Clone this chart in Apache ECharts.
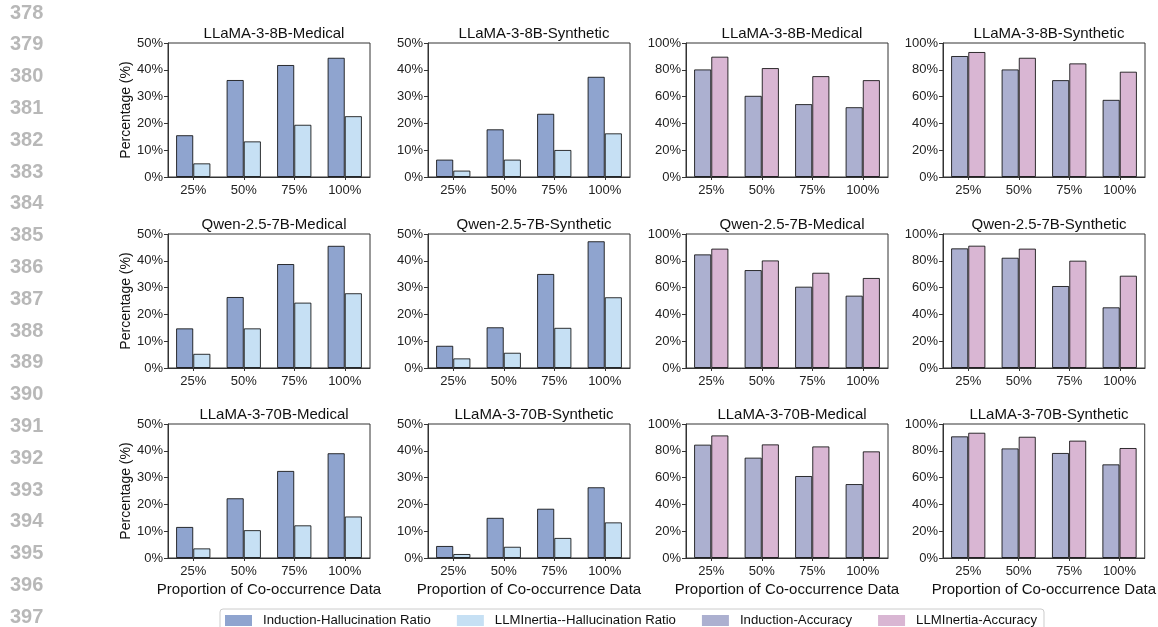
<!DOCTYPE html>
<html>
<head>
<meta charset="utf-8">
<script src="https://cdn.jsdelivr.net/npm/echarts@6/dist/echarts.min.js"></script>
<style>
html,body{margin:0;padding:0;background:#fff;}
#chart{width:1158px;height:627px;}
</style>
</head>
<body>
<div id="chart"></div>
<script>
// ---------- DATA ----------
const categories = ['25%', '50%', '75%', '100%'];
const hallTicks = [0, 10, 20, 30, 40, 50];
const accTicks = [0, 20, 40, 60, 80, 100];
const lineNumbers = ['378','379','380','381','382','383','384','385','386','387','388','389','390','391','392','393','394','395','396','397'];
const seriesNames = ['Induction-Hallucination Ratio', 'LLMInertia--Hallucination Ratio', 'Induction-Accuracy', 'LLMInertia-Accuracy'];

// LLaMA-3-8B
const llama8bMedInductionHall = [15.6, 36.2, 41.8, 44.5];
const llama8bMedInertiaHall   = [5.1, 13.3, 19.5, 22.7];
const llama8bSynInductionHall = [6.5, 17.8, 23.6, 37.4];
const llama8bSynInertiaHall   = [2.4, 6.5, 10.1, 16.3];
const llama8bMedInductionAcc  = [80.3, 60.6, 54.4, 52.1];
const llama8bMedInertiaAcc    = [89.8, 81.3, 75.3, 72.3];
const llama8bSynInductionAcc  = [90.3, 80.3, 72.3, 57.6];
const llama8bSynInertiaAcc    = [93.3, 89.0, 84.8, 78.6];
// Qwen-2.5-7B
const qwenMedInductionHall = [14.8, 26.5, 38.8, 45.6];
const qwenMedInertiaHall   = [5.3, 14.8, 24.4, 27.9];
const qwenSynInductionHall = [8.3, 15.2, 35.1, 47.3];
const qwenSynInertiaHall   = [3.6, 5.7, 15.0, 26.4];
const qwenMedInductionAcc  = [84.8, 73.1, 60.7, 54.0];
const qwenMedInertiaAcc    = [89.1, 80.3, 71.1, 67.2];
const qwenSynInductionAcc  = [89.3, 82.3, 61.2, 45.3];
const qwenSynInertiaAcc    = [91.3, 89.1, 80.1, 68.9];
// LLaMA-3-70B
const llama70bMedInductionHall = [11.6, 22.3, 32.5, 39.1];
const llama70bMedInertiaHall   = [3.6, 10.4, 12.2, 15.5];
const llama70bSynInductionHall = [4.5, 15.0, 18.4, 26.4];
const llama70bSynInertiaHall   = [1.5, 4.2, 7.5, 13.3];
const llama70bMedInductionAcc  = [84.6, 74.9, 61.2, 55.2];
const llama70bMedInertiaAcc    = [91.5, 84.8, 83.3, 79.6];
const llama70bSynInductionAcc  = [90.8, 81.8, 78.4, 69.9];
const llama70bSynInertiaAcc    = [93.5, 90.5, 87.6, 82.1];

// panels: [title, kind, first, second]
const panels = [
  ['LLaMA-3-8B-Medical', 'hall', llama8bMedInductionHall, llama8bMedInertiaHall],
  ['LLaMA-3-8B-Synthetic', 'hall', llama8bSynInductionHall, llama8bSynInertiaHall],
  ['LLaMA-3-8B-Medical', 'acc', llama8bMedInductionAcc, llama8bMedInertiaAcc],
  ['LLaMA-3-8B-Synthetic', 'acc', llama8bSynInductionAcc, llama8bSynInertiaAcc],
  ['Qwen-2.5-7B-Medical', 'hall', qwenMedInductionHall, qwenMedInertiaHall],
  ['Qwen-2.5-7B-Synthetic', 'hall', qwenSynInductionHall, qwenSynInertiaHall],
  ['Qwen-2.5-7B-Medical', 'acc', qwenMedInductionAcc, qwenMedInertiaAcc],
  ['Qwen-2.5-7B-Synthetic', 'acc', qwenSynInductionAcc, qwenSynInertiaAcc],
  ['LLaMA-3-70B-Medical', 'hall', llama70bMedInductionHall, llama70bMedInertiaHall],
  ['LLaMA-3-70B-Synthetic', 'hall', llama70bSynInductionHall, llama70bSynInertiaHall],
  ['LLaMA-3-70B-Medical', 'acc', llama70bMedInductionAcc, llama70bMedInertiaAcc],
  ['LLaMA-3-70B-Synthetic', 'acc', llama70bSynInductionAcc, llama70bSynInertiaAcc]
];

// ---------- LAYOUT / STYLE ----------
const FONT = '"Liberation Sans", Arial, sans-serif';
const colLefts = [168, 428, 686, 943];
const rowTops = [43, 234, 424];
const gridW = 202, gridH = 134;
const colors = ['#8fa4cf', '#c6e0f4', '#acb0d0', '#d9b6d3'];
const edge = 'rgba(0,0,0,0.8)';

const chart = echarts.init(document.getElementById('chart'), null, {renderer: 'canvas'});

const grids = [], xAxes = [], yAxes = [], series = [], titles = [];
panels.forEach((p, i) => {
  const row = Math.floor(i / 4), col = i % 4;
  const isHall = p[1] === 'hall';
  const ticks = isHall ? hallTicks : accTicks;
  grids.push({
    left: colLefts[col], top: rowTops[row], width: gridW, height: gridH,
    show: true, borderColor: '#333', borderWidth: 1, backgroundColor: 'transparent'
  });
  titles.push({
    text: p[0], left: colLefts[col] + gridW / 2, top: rowTops[row] - 22, textAlign: 'center',
    textStyle: {fontFamily: FONT, fontSize: 15, fontWeight: 'normal', color: '#111'}
  });
  xAxes.push({
    type: 'category', gridIndex: i, data: categories, boundaryGap: true,
    axisLine: {show: true, lineStyle: {color: '#333', width: 1}},
    axisTick: {show: true, alignWithLabel: true, length: 3, lineStyle: {color: '#333'}},
    axisLabel: {fontFamily: FONT, fontSize: 13, color: '#222', margin: 7},
    name: row === 2 ? 'Proportion of Co-occurrence Data' : '',
    nameLocation: 'middle', nameGap: 24,
    nameTextStyle: {fontFamily: FONT, fontSize: 15, color: '#111'}
  });
  yAxes.push({
    type: 'value', gridIndex: i, min: ticks[0], max: ticks[ticks.length - 1],
    interval: ticks[1] - ticks[0],
    axisLine: {show: true, lineStyle: {color: '#333', width: 1}},
    axisTick: {show: true, length: 4, lineStyle: {color: '#333'}},
    splitLine: {show: false},
    axisLabel: {fontFamily: FONT, fontSize: 13, color: '#222', margin: 5, formatter: '{value}%'},
    name: col === 0 ? 'Percentage (%)' : '',
    nameLocation: 'middle', nameGap: 34, nameRotate: 90,
    nameTextStyle: {fontFamily: FONT, fontSize: 14, color: '#111'}
  });
  const nA = isHall ? 0 : 2, nB = isHall ? 1 : 3;
  [[nA, p[2]], [nB, p[3]]].forEach(([ni, d]) => {
    series.push({
      type: 'bar', name: seriesNames[ni], xAxisIndex: i, yAxisIndex: i, data: d,
      barWidth: '34%', barGap: '0%',
      itemStyle: {color: colors[ni], borderColor: edge, borderWidth: 1},
      emphasis: {disabled: true}, animation: false
    });
  });
});

const graphics = lineNumbers.map((t, k) => ({
  type: 'text', left: 10, top: 14 + k * 31.8 - 11,
  style: {text: t, fontFamily: FONT, fontSize: 20, fontWeight: 'bold', fill: '#b8b8b8'}
}));

chart.setOption({
  animation: false,
  backgroundColor: '#fff',
  title: titles,
  grid: grids,
  xAxis: xAxes,
  yAxis: yAxes,
  series: series,
  graphic: graphics,
  legend: {
    data: seriesNames, left: 220, top: 609, orient: 'horizontal',
    itemWidth: 27, itemHeight: 11, itemGap: 26,
    padding: [5, 7, 5, 5],
    borderColor: '#ccc', borderWidth: 1, borderRadius: 3,
    icon: 'rect',
    itemStyle: {borderWidth: 0},
    textStyle: {fontFamily: FONT, fontSize: 13.2, color: '#111', padding: [0, 0, 0, 6]}
  }
});
</script>
</body>
</html>
